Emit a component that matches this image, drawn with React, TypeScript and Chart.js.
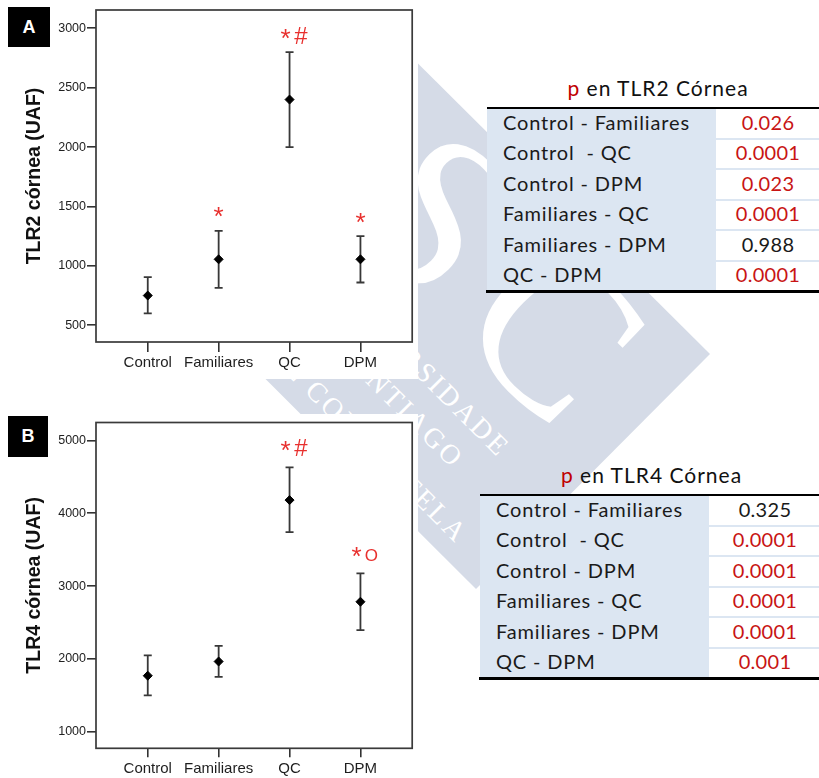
import React, { useEffect, useRef } from 'react';
import { Chart, registerables } from 'chart.js';

Chart.register(...registerables);

// ---------- data ----------
const CATEGORIES = ['Control', 'Familiares', 'QC', 'DPM'];

const TLR2_MEAN = [750, 1055, 2400, 1055];
const TLR2_LOW = [600, 815, 2000, 860];
const TLR2_HIGH = [905, 1295, 2800, 1250];
const TLR2_MARKS = ['', '*', '*#', '*'];
const TLR2_TICKS = [500, 1000, 1500, 2000, 2500, 3000];

const TLR4_MEAN = [1770, 1965, 4180, 2785];
const TLR4_LOW = [1500, 1755, 3740, 2395];
const TLR4_HIGH = [2050, 2180, 4630, 3175];
const TLR4_MARKS = ['', '', '*#', '*O'];
const TLR4_TICKS = [1000, 2000, 3000, 4000, 5000];

const PAIRS = [
  'Control - Familiares',
  'Control  - QC',
  'Control - DPM',
  'Familiares - QC',
  'Familiares - DPM',
  'QC - DPM',
];
const TLR2_P = ['0.026', '0.0001', '0.023', '0.0001', '0.988', '0.0001'];
const TLR4_P = ['0.325', '0.0001', '0.0001', '0.0001', '0.0001', '0.001'];

// ---------- style ----------
const SANS = "'Liberation Sans', Arial, sans-serif";
const TFONT = "Lato, 'Open Sans', sans-serif";
const MARK_RED = '#e8302e';
const P_RED = '#c81414';
const TABLE_BLUE = '#dce6f2';
const WATERMARK = '#d5dbe7';

type PanelProps = {
  width: number;
  height: number;
  means: number[];
  lows: number[];
  highs: number[];
  marks: string[];
  ticks: number[];
  yMin: number;
  yMax: number;
  title: string;
  padTop: number;
  padRight: number;
  xAxisH: number;
  xTickLen: number;
  xTickPad: number;
  markGap: number;
};

function ErrorBarPanel(p: PanelProps) {
  const ref = useRef<HTMLCanvasElement>(null);
  useEffect(() => {
    const canvas = ref.current;
    if (!canvas) return;
    const datasets: any[] = [
      {
        data: p.means.map((m, i) => ({ x: i + 1, y: m })),
        pointStyle: 'rectRot',
        pointRadius: 4.5,
        pointBackgroundColor: '#000',
        pointBorderColor: '#000',
        pointBorderWidth: 1,
        showLine: false,
      },
      ...p.lows.map((lo, i) => ({
        data: [
          { x: i + 1, y: lo },
          { x: i + 1, y: p.highs[i] },
        ],
        showLine: true,
        borderColor: '#383838',
        borderWidth: 1.8,
        pointStyle: 'line',
        pointRadius: 4,
        pointBorderWidth: 1.8,
        pointBorderColor: '#383838',
        fill: false,
      })),
    ];

    const boxPlugin = {
      id: 'plotBox',
      afterDatasetsDraw(chart: any) {
        const { ctx, chartArea: a } = chart;
        ctx.save();
        ctx.strokeStyle = '#3a3a3a';
        ctx.lineWidth = 1.7;
        ctx.strokeRect(a.left, a.top, a.right - a.left, a.bottom - a.top);
        ctx.restore();
      },
    };

    const markPlugin = {
      id: 'sigMarks',
      afterDatasetsDraw(chart: any) {
        const { ctx } = chart;
        const xs = chart.scales.x;
        const ys = chart.scales.y;
        ctx.save();
        ctx.fillStyle = MARK_RED;
        ctx.textAlign = 'center';
        ctx.textBaseline = 'alphabetic';
        const star = (cx: number, cy: number) => {
          ctx.font = `26px ${SANS}`;
          ctx.fillText('*', cx, cy + 10);
        };
        p.marks.forEach((m, i) => {
          if (!m) return;
          const x = xs.getPixelForValue(i + 1);
          const cy = ys.getPixelForValue(p.highs[i]) - p.markGap;
          if (m.length === 1) {
            star(x, cy);
          } else {
            star(x - 4, cy);
            const c = m[1];
            if (c === '#') {
              ctx.font = `24px ${SANS}`;
              ctx.fillText('#', x + 11.3, cy + 7.5);
            } else {
              ctx.font = `17px ${SANS}`;
              ctx.fillText(c, x + 10.8, cy + 6);
            }
          }
        });
        ctx.restore();
      },
    };

    const chart = new Chart(canvas, {
      type: 'scatter',
      data: { datasets },
      options: {
        responsive: false,
        animation: false,
        events: [],
        layout: { padding: { top: p.padTop, right: p.padRight, left: 0, bottom: 0 } },
        plugins: { legend: { display: false }, tooltip: { enabled: false } },
        scales: {
          x: {
            type: 'linear',
            min: 0.27,
            max: 4.73,
            afterBuildTicks: (s: any) => {
              s.ticks = CATEGORIES.map((_, i) => ({ value: i + 1 }));
            },
            afterFit: (s: any) => {
              s.height = p.xAxisH;
            },
            ticks: {
              autoSkip: false,
              maxRotation: 0,
              minRotation: 0,
              padding: p.xTickPad,
              color: '#1e1e1e',
              font: { family: SANS, size: 15 },
              callback: (v: any) => CATEGORIES[Math.round(Number(v)) - 1] ?? '',
            },
            grid: {
              drawOnChartArea: false,
              drawTicks: true,
              tickLength: p.xTickLen,
              color: '#333',
              lineWidth: 1.6,
            },
            border: { display: false },
          },
          y: {
            type: 'linear',
            min: p.yMin,
            max: p.yMax,
            afterBuildTicks: (s: any) => {
              s.ticks = p.ticks.map((v) => ({ value: v }));
            },
            afterFit: (s: any) => {
              s.width = 96;
            },
            ticks: {
              padding: 1,
              color: '#222',
              font: { family: SANS, size: 12.5 },
              callback: (v: any) => String(v),
            },
            grid: {
              drawOnChartArea: false,
              drawTicks: true,
              tickLength: 9,
              color: '#333',
              lineWidth: 1.6,
            },
            border: { display: false },
            title: {
              display: true,
              text: p.title,
              color: '#111',
              font: { family: SANS, size: 19.5, weight: 'bold' },
              padding: { top: 23, bottom: 0 },
            },
          },
        },
      } as any,
      plugins: [boxPlugin, markPlugin],
    });
    return () => chart.destroy();
  }, []);
  return <canvas ref={ref} width={p.width} height={p.height} style={{ display: 'block' }} />;
}

type TableProps = {
  title: string;
  values: string[];
  left: number;
  top: number;
  bottom: number;
  split: number;
  textLeft: number;
  valueCenter: number;
  titleCenter: number;
  titleBaseline: number;
};

function PTable(t: TableProps) {
  const rowH = (t.bottom - t.top) / PAIRS.length;
  const els: any[] = [];
  els.push(
    <div
      key="title"
      style={{
        position: 'absolute',
        left: t.titleCenter - 150,
        width: 300,
        top: t.titleBaseline - 20.7,
        textAlign: 'center',
        font: `21px ${TFONT}`,
        letterSpacing: '1px',
        lineHeight: '25.2px',
        color: '#111',
        whiteSpace: 'pre',
      }}
    >
      <span style={{ color: '#c00000' }}>p</span>
      {t.title}
    </div>
  );
  els.push(
    <div
      key="blue"
      style={{
        position: 'absolute',
        left: t.left,
        top: t.top,
        width: t.split - t.left,
        height: t.bottom - t.top,
        background: TABLE_BLUE,
      }}
    />
  );
  els.push(
    <div
      key="white"
      style={{
        position: 'absolute',
        left: t.split,
        top: t.top,
        width: 819 - t.split,
        height: t.bottom - t.top,
        background: '#fff',
      }}
    />
  );
  for (let i = 1; i < PAIRS.length; i++) {
    els.push(
      <div
        key={'sep' + i}
        style={{
          position: 'absolute',
          left: t.split,
          top: t.top + i * rowH - 1,
          width: 819 - t.split,
          height: 2,
          background: TABLE_BLUE,
        }}
      />
    );
  }
  PAIRS.forEach((pair, i) => {
    const rt = t.top + i * rowH + 1.5;
    const sig = parseFloat(t.values[i]) < 0.05;
    els.push(
      <div
        key={'pair' + i}
        style={{
          position: 'absolute',
          left: t.textLeft,
          top: rt,
          height: rowH,
          lineHeight: rowH + 'px',
          font: `20px ${TFONT}`,
          letterSpacing: '0.85px',
          color: '#1a1a1a',
          whiteSpace: 'pre',
        }}
      >
        {pair}
      </div>
    );
    els.push(
      <div
        key={'val' + i}
        style={{
          position: 'absolute',
          left: t.valueCenter - 60,
          width: 120,
          textAlign: 'center',
          top: rt,
          height: rowH,
          lineHeight: rowH + 'px',
          font: `20px ${TFONT}`,
          letterSpacing: '0.3px',
          color: sig ? P_RED : '#1a1a1a',
          whiteSpace: 'pre',
        }}
      >
        {t.values[i]}
      </div>
    );
  });
  els.push(
    <div
      key="topline"
      style={{ position: 'absolute', left: t.left, top: t.top - 1, width: 819 - t.left, height: 2, background: '#000' }}
    />
  );
  els.push(
    <div
      key="botline"
      style={{ position: 'absolute', left: t.left - 1, top: t.bottom - 1.5, width: 820 - t.left, height: 3, background: '#000' }}
    />
  );
  return <>{els}</>;
}

function Watermark() {
  const ring = { fontFamily: "'Liberation Serif', 'DejaVu Serif', serif", fontSize: 28, letterSpacing: 3, fill: '#fff' };
  return (
    <svg width={819} height={778} style={{ position: 'absolute', left: 0, top: 0 }}>
      <polygon points="327,-27 710,354 476,589 93,207" fill={WATERMARK} />
      <g fontFamily="'Liberation Serif', 'DejaVu Serif', serif" fontSize={222} fill="#fff">
        <text transform="translate(438,212) rotate(45)" x={0} y={75} textAnchor="middle">S</text>
        <text transform="translate(556,330) rotate(45)" x={0} y={75} textAnchor="middle">C</text>
      </g>
      <text transform="translate(499,459) rotate(45)" textAnchor="end" {...ring}>UNIVERSIDADE</text>
      <text transform="translate(453,470) rotate(45)" textAnchor="end" {...ring}>DE SANTIAGO</text>
      <text transform="translate(457,545) rotate(45)" textAnchor="end" {...ring}>DE COMPOSTELA</text>
    </svg>
  );
}

const letterBox = (left: number, top: number, w: number, h: number, ch: string) => (
  <div
    style={{
      position: 'absolute',
      left,
      top,
      width: w,
      height: h,
      background: '#000',
      color: '#fff',
      font: `bold 18px ${SANS}`,
      lineHeight: h + 'px',
      textAlign: 'center',
    }}
  >
    {ch}
  </div>
);

export default function App() {
  return (
    <div
      style={{
        position: 'absolute',
        left: 0,
        top: 0,
        width: 819,
        height: 778,
        overflow: 'hidden',
        background: '#fff',
      }}
    >
      <Watermark />
      <div style={{ position: 'absolute', left: 0, top: 0, width: 418, height: 379, background: '#fff' }}>
        <ErrorBarPanel
          width={418}
          height={379}
          means={TLR2_MEAN}
          lows={TLR2_LOW}
          highs={TLR2_HIGH}
          marks={TLR2_MARKS}
          ticks={TLR2_TICKS}
          yMin={359}
          yMax={3154}
          title="TLR2 córnea (UAF)"
          padTop={10}
          padRight={4}
          xAxisH={37}
          xTickLen={10}
          xTickPad={2}
          markGap={15.5}
        />
      </div>
      {letterBox(8, 7, 42, 40, 'A')}
      <div style={{ position: 'absolute', left: 0, top: 414, width: 418, height: 364, background: '#fff' }}>
        <ErrorBarPanel
          width={418}
          height={364}
          means={TLR4_MEAN}
          lows={TLR4_LOW}
          highs={TLR4_HIGH}
          marks={TLR4_MARKS}
          ticks={TLR4_TICKS}
          yMin={774}
          yMax={5245}
          title="TLR4 córnea (UAF)"
          padTop={5.3}
          padRight={4.7}
          xAxisH={29.7}
          xTickLen={9}
          xTickPad={3}
          markGap={18.5}
        />
      </div>
      {letterBox(8, 416, 40, 41, 'B')}
      <PTable
        title=" en TLR2 Córnea"
        values={TLR2_P}
        left={487}
        top={108.3}
        bottom={291}
        split={716}
        textLeft={503}
        valueCenter={768}
        titleCenter={658}
        titleBaseline={96}
      />
      <PTable
        title=" en TLR4 Córnea"
        values={TLR4_P}
        left={480}
        top={495}
        bottom={678}
        split={709}
        textLeft={496}
        valueCenter={765}
        titleCenter={651.5}
        titleBaseline={482.3}
      />
    </div>
  );
}
